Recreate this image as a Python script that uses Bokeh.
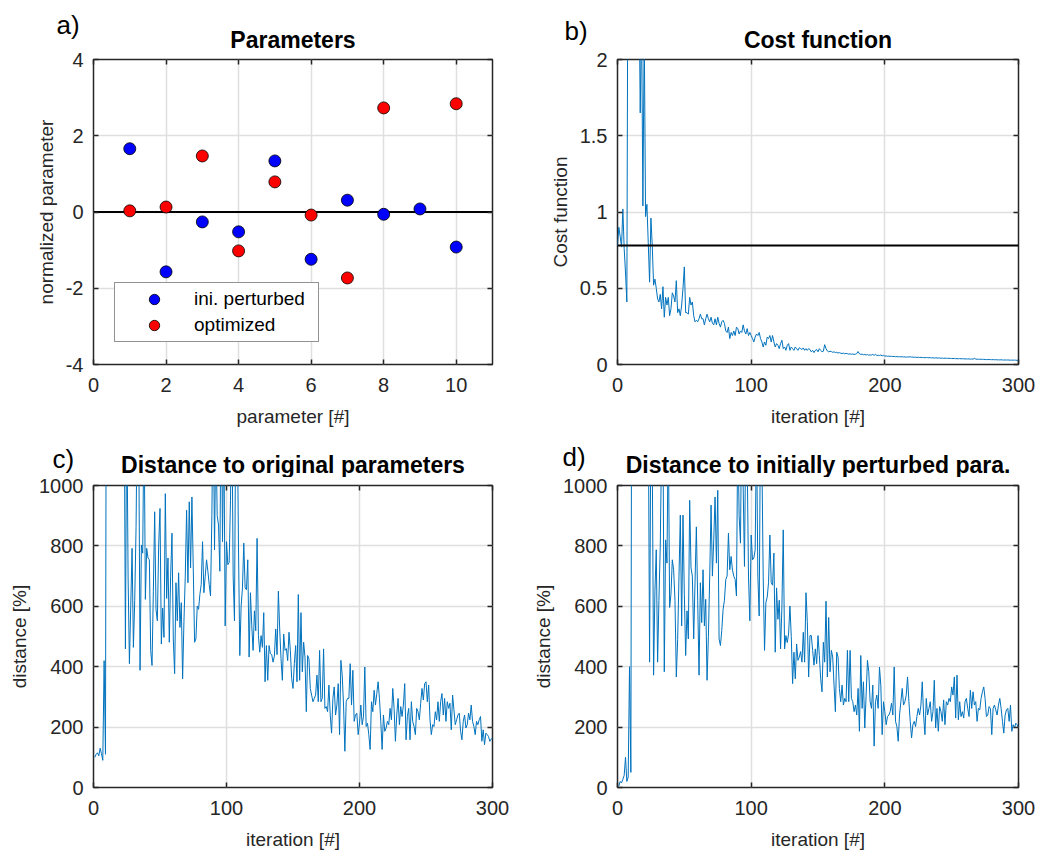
import math
from bokeh.plotting import figure
from bokeh.models import (Range1d, FixedTicker, LinearAxis, Legend, LegendItem,
                          Span, NumeralTickFormatter)
from bokeh.core.properties import value
from bokeh.layouts import row, column
from bokeh.embed import file_html
from bokeh.resources import INLINE

# ---------------- data ----------------
param_index = [1, 2, 3, 4, 5, 6, 7, 8, 9, 10]
ini_perturbed = [1.66, -1.57, -0.26, -0.52, 1.34, -1.24, 0.31, -0.06, 0.08, -0.92]
optimized = [0.03, 0.13, 1.47, -1.02, 0.79, -0.08, -1.73, 2.73, float("nan"), 2.84]

cost = [
    0.78, 0.90, 0.84, 0.77, 1.02, 0.76, 0.60, 0.41,
    3.5, 4.2, 3.8, 5.0, 4.5, 3.9, 2.8, 3.3, 2.6,
    1.65, 2.3, 1.04, 2.2, 0.97, 1.05, 0.80, 0.54, 0.96, 0.78, 0.52, 0.56, 0.50,
    0.43, 0.41, 0.46, 0.365, 0.51, 0.31, 0.44, 0.39, 0.44, 0.32,
    0.365, 0.47, 0.45, 0.41, 0.55, 0.34, 0.365, 0.32, 0.39, 0.50,
    0.64, 0.34, 0.34, 0.33, 0.44, 0.39, 0.41, 0.32, 0.28, 0.29,
    0.28, 0.30, 0.33, 0.30, 0.30, 0.26, 0.30, 0.33, 0.30, 0.28,
    0.31, 0.27, 0.26, 0.30, 0.26, 0.31, 0.27, 0.245, 0.28, 0.29,
    0.27, 0.22, 0.21, 0.245, 0.17, 0.21, 0.19, 0.22, 0.19, 0.245,
    0.235, 0.20, 0.22, 0.21, 0.26, 0.22, 0.20, 0.235, 0.19, 0.21,
    0.19, 0.17, 0.148, 0.18, 0.20, 0.19, 0.21, 0.17, 0.148, 0.115,
    0.148, 0.126, 0.18, 0.17, 0.19, 0.148, 0.19, 0.148, 0.115, 0.137,
    0.126, 0.104, 0.137, 0.159, 0.104, 0.115, 0.093, 0.126, 0.137, 0.093,
    0.115, 0.104, 0.093, 0.115, 0.104, 0.093, 0.11, 0.104, 0.098, 0.109,
    0.093, 0.104, 0.093, 0.104, 0.098, 0.083, 0.093, 0.078, 0.093, 0.098,
    0.083, 0.104, 0.093, 0.083, 0.087, 0.13, 0.104, 0.089, 0.083, 0.087,
    0.085, 0.08, 0.083, 0.078, 0.08, 0.075, 0.078, 0.074, 0.072, 0.075,
    0.07, 0.073, 0.071, 0.068, 0.07, 0.067, 0.069, 0.066, 0.068, 0.072,
    0.085, 0.07, 0.066, 0.068, 0.064, 0.066, 0.062, 0.065, 0.061, 0.063,
    0.062, 0.066, 0.06, 0.068, 0.058, 0.061, 0.059, 0.062, 0.057, 0.06,
    0.055, 0.056, 0.054, 0.055, 0.053, 0.054, 0.052, 0.053, 0.051, 0.052,
    0.05, 0.052, 0.05, 0.051, 0.049, 0.05, 0.048, 0.05, 0.049, 0.051,
    0.048, 0.049, 0.047, 0.048, 0.046, 0.048, 0.046, 0.047, 0.045, 0.046,
    0.044, 0.046, 0.045, 0.044, 0.045, 0.043, 0.044, 0.042, 0.044, 0.043,
    0.042, 0.043, 0.041, 0.042, 0.04, 0.042, 0.041, 0.04, 0.041, 0.039,
    0.04, 0.039, 0.04, 0.038, 0.039, 0.037, 0.039, 0.038, 0.037, 0.038,
    0.036, 0.037, 0.036, 0.037, 0.035, 0.036, 0.035, 0.04, 0.036, 0.034,
    0.035, 0.034, 0.035, 0.033, 0.034, 0.033, 0.032, 0.033, 0.032, 0.033,
    0.031, 0.032, 0.031, 0.032, 0.03, 0.031, 0.03, 0.031, 0.03, 0.029,
    0.03, 0.029, 0.03, 0.029, 0.028, 0.029, 0.028, 0.029, 0.028, 0.027,
    0.028,
]
cost_reference = 0.78

dist_original = [
    100, 110, 115, 105, 130, 112, 90, 420, 110,
    2400, 3000, 2200, 2800, 3400, 2600, 1900, 2400, 3100, 2700, 2000, 2300, 1600,
    1400, 459, 1300, 700, 410, 600, 792, 464, 620, 860,
    1300, 1200, 388, 803, 776, 1250, 623, 792, 760, 754,
    454, 404, 650, 913, 590, 552, 800, 924, 475, 594,
    497, 973, 626, 760, 481, 700, 842, 492, 377, 678,
    552, 711, 530, 612, 360, 550, 700, 918, 678, 946,
    727, 962, 727, 481, 492, 601, 590, 640, 672, 814,
    645, 700, 754, 716, 672, 634, 900, 1300, 787, 1200,
    900, 869, 716, 1400, 814, 1200, 535, 814, 738, 745,
    951, 1300, 700, 552, 1300, 1300, 800, 437, 601, 661,
    809, 661, 655, 754, 432, 645, 535, 454, 585, 519,
    825, 503, 448, 503, 464, 579, 350, 470, 355, 470,
    443, 440, 415, 435, 525, 440, 650, 525, 426, 355,
    508, 454, 460, 420,
    514, 454, 361, 328, 410, 470, 350, 639, 355, 579,
    383, 481, 432, 251, 437, 426, 328, 306, 284, 295,
    306, 372, 284, 454, 284, 295, 459, 262, 268, 251,
    339, 240, 180, 295, 333, 240, 273, 344, 175, 421,
    372, 273, 120, 284, 295, 295, 410, 273, 388, 219,
    240, 246, 175, 213, 273, 208, 235, 399, 202, 213,
    175, 126, 284, 251, 322, 273, 311, 350, 295, 219,
    126, 240, 186, 197, 219, 208, 262, 224, 328, 262,
    153, 240, 295, 208, 268, 235, 273, 344, 158, 235,
    262, 158, 284, 219, 202, 175, 262, 251, 224, 279,
    328, 290, 344, 350, 284, 339, 224, 175, 208, 202,
    251, 224, 284, 219, 284, 311, 240, 295, 219, 284,
    262, 279, 191, 306, 257, 208, 224, 240, 246, 186,
    158, 219, 240, 197, 208, 246, 224, 273, 219, 202,
    175, 219, 208, 224, 235, 153, 191, 142, 180, 175,
    169, 153, 160, 165,
]

dist_perturbed = [
    5, 20, 15, 27, 40, 100, 20, 35, 400, 50,
    2400, 3000, 2100, 2800, 3300, 2500, 1900, 2600, 3000, 2200, 2700, 1800,
    1300, 415, 1250, 1100, 372, 650, 787, 415, 620, 800,
    1150, 1200, 383, 820, 743, 1200, 596, 640, 754, 721,
    620, 366, 490, 700, 902, 535, 902, 640, 437, 585,
    492, 951, 727, 700, 492, 680, 863, 620, 372, 678,
    546, 721, 535, 623, 355, 500, 700, 935, 700, 820,
    962, 743, 984, 492, 470, 520, 590, 620, 689, 700,
    842, 721, 765, 720, 700, 689, 634, 1200, 900, 809,
    1300, 1000, 732, 1200, 1100, 700, 552, 836, 754, 760,
    787, 1200, 700, 568, 1250, 1100, 700, 454, 612, 630,
    678, 836, 678, 670, 776, 448, 661, 557, 620, 459,
    600, 853, 459, 503, 480, 508, 601, 500, 344, 448,
    360, 475, 421, 432, 450, 415, 514, 415, 645, 550,
    366, 503,
    503, 454, 405, 459, 410, 503, 437, 360, 317, 481,
    415, 617, 366, 563, 383, 454, 432, 339, 251, 448,
    432, 328, 284, 339, 273, 295, 284, 454, 284, 454,
    295, 284, 251, 273, 240, 328, 186, 437, 262, 350,
    197, 306, 421, 383, 284, 262, 339, 137, 284, 306,
    262, 399, 339, 175, 284, 251, 208, 235, 240, 251,
    279, 240, 399, 219, 202, 153, 240, 284, 328, 273,
    284, 306, 366, 284, 219, 164, 208, 219, 202, 235,
    262, 240, 273, 350, 240, 175, 295, 240, 262, 284,
    219, 251, 355, 197, 262, 186, 268, 251, 219, 290,
    208, 284, 273, 295, 284, 333, 306, 366, 230, 372,
    224, 284, 235, 251, 230, 284, 295, 262, 235, 322,
    262, 317, 273, 284, 219, 262, 257, 295, 317, 333,
    295, 235, 240, 268, 262, 175, 262, 273, 257, 240,
    273, 295, 262, 219, 180, 240, 257, 262, 219, 273,
    186, 208, 197, 213, 208, 197,
]

cost_iter = list(range(0, len(cost)))
orig_iter = list(range(1, len(dist_original) + 1))
pert_iter = list(range(1, len(dist_perturbed) + 1))

param_ticks = [0, 2, 4, 6, 8, 10]
param_yticks = [-4, -2, 0, 2, 4]
iter_ticks = [0, 100, 200, 300]
cost_ticks = [0, 0.5, 1, 1.5, 2]
dist_ticks = [0, 200, 400, 600, 800, 1000]

panel_titles = ["Parameters", "Cost function",
                "Distance to original parameters", "Distance to initially perturbed para."]
panel_letters = ["a)", "b)", "c)", "d)"]

# ---------------- style ----------------
FONT = "Liberation Sans"
DARK = "#262626"
GRID = "#dfdfdf"
BLUE_LINE = "#0072BD"
TICK_FS = "20px"
LABEL_FS = "19px"


def make_header(w, h, title, title_x, title_base, letter, letter_x, letter_base):
    """Strip above a panel holding its bold title and its panel letter (pixel coords, y down)."""
    hp = figure(width=w, height=h, x_range=Range1d(0, w), y_range=Range1d(h, 0),
                x_axis_type=None, y_axis_type=None, output_backend="svg",
                toolbar_location=None, min_border=0)
    if hp.title is not None:
        hp.title.visible = False
    hp.outline_line_color = None
    hp.background_fill_color = "white"
    hp.border_fill_color = "white"
    hp.text(x=[title_x], y=[title_base], text=[title], text_font=value(FONT),
            text_font_size=value("23px"), text_font_style="bold", text_color="black",
            text_align="center", text_baseline="alphabetic")
    hp.text(x=[letter_x], y=[letter_base], text=[letter], text_font=value(FONT),
            text_font_size=value("26px"), text_font_style="normal", text_color="black",
            text_align="left", text_baseline="alphabetic")
    return hp


def make_fig(w, h, lb, rb, tb, bb, xr, yr, xticks, yticks, xlabel, ylabel, yfmt=None):
    p = figure(width=w, height=h, x_range=Range1d(*xr), y_range=Range1d(*yr),
               output_backend="svg", toolbar_location=None,
               min_border_left=lb, min_border_right=rb, min_border_top=tb, min_border_bottom=bb)
    if p.title is not None:
        p.title.visible = False
    p.background_fill_color = "white"
    p.border_fill_color = "white"
    p.outline_line_color = DARK
    p.outline_line_width = 1.5

    xt = FixedTicker(ticks=xticks)
    yt = FixedTicker(ticks=yticks)
    p.xaxis.ticker = xt
    p.yaxis.ticker = yt
    p.xgrid.ticker = xt
    p.ygrid.ticker = yt
    for g in (p.xgrid, p.ygrid):
        g.grid_line_color = GRID
        g.grid_line_width = 1.5
    for ax in (p.xaxis[0], p.yaxis[0]):
        ax.axis_line_color = None
        ax.major_tick_in = 5
        ax.major_tick_out = 0
        ax.major_tick_line_color = DARK
        ax.major_tick_line_width = 1.5
        ax.minor_tick_line_color = None
        ax.major_label_text_font = FONT
        ax.major_label_text_font_size = TICK_FS
        ax.major_label_text_color = DARK
        ax.axis_label_text_font = FONT
        ax.axis_label_text_font_size = LABEL_FS
        ax.axis_label_text_font_style = "normal"
        ax.axis_label_text_color = DARK
    p.xaxis[0].axis_label = xlabel
    p.yaxis[0].axis_label = ylabel
    p.xaxis[0].major_label_standoff = 13
    p.yaxis[0].major_label_standoff = 10
    p.xaxis[0].axis_label_standoff = 11
    p.yaxis[0].axis_label_standoff = 6
    p.yaxis[0].formatter = yfmt if yfmt is not None else NumeralTickFormatter(format="0")
    p.xaxis[0].formatter = NumeralTickFormatter(format="0")

    # mirrored inner ticks on top and right (box on)
    for loc, tk in (("above", xt), ("right", yt)):
        ax = LinearAxis(ticker=tk, axis_line_color=None, major_tick_in=5, major_tick_out=0,
                        major_tick_line_color=DARK, major_tick_line_width=1.5,
                        minor_tick_line_color=None, major_label_text_color=None,
                        major_label_text_font_size="1px", major_label_standoff=0)
        p.add_layout(ax, loc)
    return p


# ---------------- headers (titles + panel letters) ----------------
ha = make_header(517, 51, panel_titles[0], 292.5, 39, panel_letters[0], 56, 24.5)
hb = make_header(520, 51, panel_titles[1], 300.5, 39, panel_letters[1], 47, 30)
hc = make_header(517, 48, panel_titles[2], 292.5, 35, panel_letters[2], 52, 29)
hd = make_header(520, 48, panel_titles[3], 300.5, 35, panel_letters[3], 45, 27)

# ---------------- a) Parameters ----------------
pa = make_fig(517, 378, 93, 25, 8, 63, (0, 11), (-4, 4),
              param_ticks, param_yticks, "parameter [#]", "normalized parameter")
pa.add_layout(Span(location=0, dimension="width", line_color="black", line_width=2, level="underlay"))
r_ini = pa.scatter(param_index, ini_perturbed, marker="circle", size=12,
                   fill_color="#0000FF", line_color="black", line_width=0.8)
r_opt = pa.scatter(param_index, optimized, marker="circle", size=12,
                   fill_color="#FF0000", line_color="black", line_width=0.8)
leg = Legend(items=[LegendItem(label="ini. perturbed", renderers=[r_ini]),
                    LegendItem(label="optimized", renderers=[r_opt])],
             location=(21, 22), padding=3, spacing=0, margin=0,
             glyph_width=72, glyph_height=26, label_standoff=4, label_width=121, label_height=20,
             label_text_font=FONT, label_text_font_size=LABEL_FS, label_text_color="black",
             border_line_color=DARK, border_line_width=1, background_fill_color="white",
             background_fill_alpha=1.0)
pa.add_layout(leg)

# ---------------- b) Cost function ----------------
pb = make_fig(520, 378, 100, 19, 8, 63, (0, 300), (0, 2),
              iter_ticks, cost_ticks, "iteration [#]", "Cost function",
              yfmt=NumeralTickFormatter(format="0.[0]"))
pb.line(cost_iter, cost, line_color=BLUE_LINE, line_width=1)
pb.add_layout(Span(location=cost_reference, dimension="width", line_color="black", line_width=2))

# ---------------- c) Distance to original ----------------
pc = make_fig(517, 375, 93, 25, 8, 62, (0, 300), (0, 1000),
              iter_ticks, dist_ticks, "iteration [#]", "distance [%]")
pc.line(orig_iter, dist_original, line_color=BLUE_LINE, line_width=1)

# ---------------- d) Distance to initially perturbed ----------------
pd_ = make_fig(520, 375, 100, 19, 8, 62, (0, 300), (0, 1000),
               iter_ticks, dist_ticks, "iteration [#]", "distance [%]")
pd_.line(pert_iter, dist_perturbed, line_color=BLUE_LINE, line_width=1)

layout = column(row(ha, hb), row(pa, pb), row(hc, hd), row(pc, pd_))

open("out.html", "w").write(file_html(layout, INLINE))
